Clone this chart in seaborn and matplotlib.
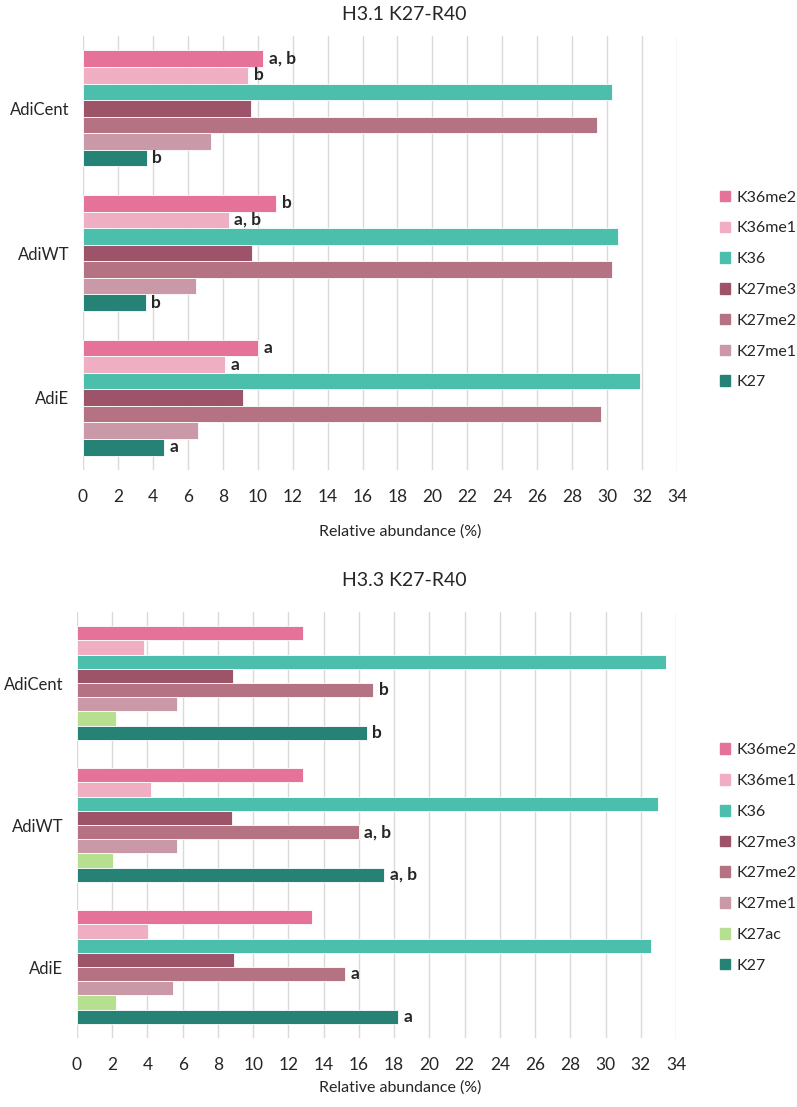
import numpy as np
import pandas as pd
import matplotlib
matplotlib.use("Agg")
import matplotlib.pyplot as plt
import matplotlib.patches as mpatches
import seaborn as sns

sns.set_style("white")
plt.rcParams["font.family"] = ["Lato", "DejaVu Sans"]

# ---- data ----
groups = ["AdiCent", "AdiWT", "AdiE"]

h31_marks = ["K36me2", "K36me1", "K36", "K27me3", "K27me2", "K27me1", "K27"]
h31_adicent = [10.3, 9.45, 30.3, 9.6, 29.4, 7.35, 3.65]
h31_adiwt = [11.05, 8.35, 30.6, 9.65, 30.3, 6.45, 3.6]
h31_adie = [10.0, 8.15, 31.9, 9.15, 29.65, 6.6, 4.65]
h31_letters_adicent = ["a, b", "b", "", "", "", "", "b"]
h31_letters_adiwt = ["b", "a, b", "", "", "", "", "b"]
h31_letters_adie = ["a", "a", "", "", "", "", "a"]

h33_marks = ["K36me2", "K36me1", "K36", "K27me3", "K27me2", "K27me1", "K27ac", "K27"]
h33_adicent = [12.8, 3.8, 33.45, 8.85, 16.8, 5.7, 2.2, 16.45]
h33_adiwt = [12.8, 4.2, 33.0, 8.8, 16.0, 5.65, 2.05, 17.45]
h33_adie = [13.35, 4.05, 32.6, 8.9, 15.2, 5.45, 2.2, 18.2]
h33_letters_adicent = ["", "", "", "", "b", "", "", "b"]
h33_letters_adiwt = ["", "", "", "", "a, b", "", "", "a, b"]
h33_letters_adie = ["", "", "", "", "a", "", "", "a"]

mark_colors = {
    "K36me2": "#E57399", "K36me1": "#F0AEC3", "K36": "#4BBFAB",
    "K27me3": "#9E5468", "K27me2": "#B47282", "K27me1": "#CA99A7",
    "K27ac": "#B6E08F", "K27": "#258275",
}


def long_df(marks, rows):
    recs = []
    for g, vals in zip(groups, rows):
        for m, v in zip(marks, vals):
            recs.append({"group": g, "mark": m, "value": v})
    return pd.DataFrame(recs)


def panel(fig, rect, title, title_y, xlabel_y, marks, rows, letters, legend_y):
    ax = fig.add_axes(rect)
    df = long_df(marks, rows)
    sns.barplot(data=df, y="group", x="value", hue="mark", order=groups, hue_order=marks,
                palette=mark_colors, saturation=1, orient="h", width=0.8, edgecolor="white",
                linewidth=0.6, legend=False, ax=ax, errorbar=None)
    # significance letters per bar
    for i, cont in enumerate(ax.containers):
        labs = [letters[j][i] for j in range(len(groups))]
        ax.bar_label(cont, labels=labs, padding=4, fontsize=12.5, fontweight="bold")
    ax.set_xlim(0, 34)
    ax.set_xticks(np.arange(0, 35, 2))
    ax.set_ylim(2.5, -0.5)
    ax.grid(axis="x", color="#D9D9D9", lw=1)
    ax.set_axisbelow(True)
    sns.despine(ax=ax, left=True, bottom=True)
    ax.tick_params(axis="x", length=0, pad=14, labelsize=12.5)
    ax.tick_params(axis="y", length=0, pad=10, labelsize=12)
    ax.set_xlabel(""); ax.set_ylabel("")
    fig.text(404 / 797, title_y, title, ha="center", va="center", fontsize=14)
    fig.text(400 / 797, xlabel_y, "Relative abundance (%)", ha="center", va="center", fontsize=11.5)
    handles = [mpatches.Patch(color=mark_colors[m], label=m) for m in marks]
    fig.legend(handles=handles, loc="center left", bbox_to_anchor=(720 / 797, legend_y),
               frameon=False, fontsize=11.5, handlelength=0.65, handleheight=0.65,
               handletextpad=0.4, labelspacing=1.05, borderpad=0, borderaxespad=0)
    return ax


fig = plt.figure(figsize=(7.97, 11.07), dpi=100)
H = 1107.0
panel(fig, [83 / 797, 1 - 470 / H, (677 - 83) / 797, (470 - 36) / H],
      "H3.1 K27-R40", 1 - 14 / H, 1 - 532 / H, h31_marks,
      [h31_adicent, h31_adiwt, h31_adie],
      [h31_letters_adicent, h31_letters_adiwt, h31_letters_adie], 1 - 290 / H)
panel(fig, [77 / 797, 1 - 1038 / H, (676 - 77) / 797, (1038 - 612) / H],
      "H3.3 K27-R40", 1 - 580 / H, 1 - 1088 / H, h33_marks,
      [h33_adicent, h33_adiwt, h33_adie],
      [h33_letters_adicent, h33_letters_adiwt, h33_letters_adie], 1 - 858 / H)

fig.savefig("out.png", dpi=100)
